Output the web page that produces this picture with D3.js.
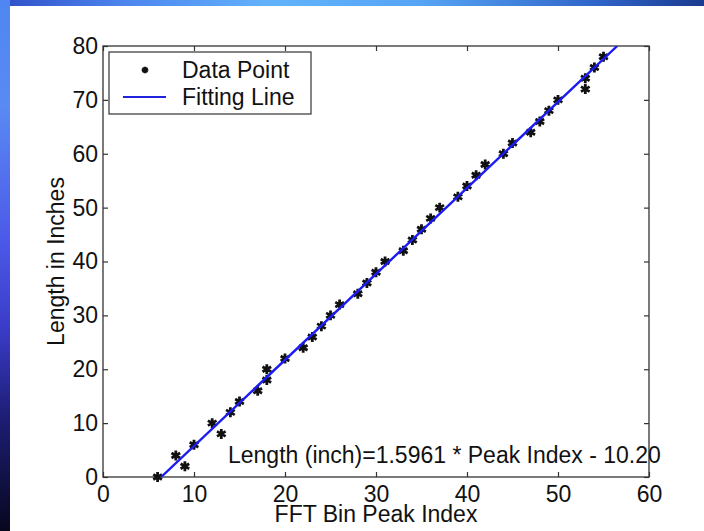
<!DOCTYPE html>
<html>
<head>
<meta charset="utf-8">
<script src="https://cdn.jsdelivr.net/npm/d3@7"></script>
<style>
  html, body { margin: 0; padding: 0; background: #fff; }
  svg { display: block; }
  text { font-family: "Liberation Sans", Arial, Helvetica, sans-serif; fill: #111; }
</style>
</head>
<body>
<svg id="chart" width="704" height="531"></svg>
<script>
// ---- data ----
const peakIndex = [6, 8, 9, 10, 12, 13, 14, 15, 17, 18, 18, 20, 22, 23, 24, 25, 26, 28, 29, 30,
                   31, 33, 34, 35, 36, 37, 39, 40, 41, 42, 44, 45, 47, 48, 49, 50, 53, 53, 54, 55];
const lengthInches = [0, 4, 2, 6, 10, 8, 12, 14, 16, 18, 20, 22, 24, 26, 28, 30, 32, 34, 36, 38,
                      40, 42, 44, 46, 48, 50, 52, 54, 56, 58, 60, 62, 64, 66, 68, 70, 72, 74, 76, 78];
// fitted line (Length = 1.5961 * Peak Index - 10.20), endpoints where it crosses the plot box
const fitX = [6.39, 56.51];
const fitY = [0, 80];
const xTicks = [0, 10, 20, 30, 40, 50, 60];
const yTicks = [0, 10, 20, 30, 40, 50, 60, 70, 80];
const xTitle = "FFT Bin Peak Index";
const yTitle = "Length in Inches";
const legendLabels = ["Data Point", "Fitting Line"];
const equationText = "Length (inch)=1.5961 * Peak Index - 10.20";

// ---- drawing ----
const svg = d3.select("#chart");
const W = 704, H = 531;
const L = 103, R = 649, T = 46, B = 477;
const FS = "23px";

const defs = svg.append("defs");
const gTop = defs.append("linearGradient").attr("id", "gTop").attr("x1", 0).attr("x2", 1).attr("y1", 0).attr("y2", 0);
[[0, "#2f4fc8"], [0.18, "#4d86ee"], [0.38, "#62b2fb"], [0.6, "#56a4f4"], [0.85, "#2f64c8"], [1, "#1a3a8e"]]
  .forEach(([o, c]) => gTop.append("stop").attr("offset", o).attr("stop-color", c));
const gLeft = defs.append("linearGradient").attr("id", "gLeft").attr("x1", 0).attr("x2", 0).attr("y1", 0).attr("y2", 1);
[[0, "#4f86f2"], [0.2, "#5a8af4"], [0.45, "#4c5ae8"], [0.62, "#3a3cc8"], [0.78, "#1e1e78"], [1, "#07071e"]]
  .forEach(([o, c]) => gLeft.append("stop").attr("offset", o).attr("stop-color", c));

svg.append("rect").attr("x", 0).attr("y", 0).attr("width", W).attr("height", 6).attr("fill", "url(#gTop)");
svg.append("rect").attr("x", 0).attr("y", 0).attr("width", 10).attr("height", H).attr("fill", "url(#gLeft)");

defs.append("clipPath").attr("id", "plotClip")
  .append("rect").attr("x", L).attr("y", T).attr("width", R - L).attr("height", B - T);

const x = d3.scaleLinear().domain([0, 60]).range([L, R]);
const y = d3.scaleLinear().domain([0, 80]).range([B, T]);

const axisColor = "#333";
function styleAxis(g) {
  g.select(".domain").remove();
  g.selectAll(".tick line").attr("stroke", axisColor).attr("stroke-width", 1.2);
  g.selectAll(".tick text").style("font-size", FS).attr("fill", "#111");
}

svg.append("g").attr("transform", `translate(0,${B})`)
  .call(d3.axisBottom(x).tickValues(xTicks).tickFormat(d3.format("d")).tickSizeInner(-5).tickSizeOuter(0).tickPadding(9))
  .call(styleAxis);
svg.append("g").attr("transform", `translate(${L},0)`)
  .call(d3.axisLeft(y).tickValues(yTicks).tickFormat(d3.format("d")).tickSizeInner(-5).tickSizeOuter(0).tickPadding(5))
  .call(styleAxis);
svg.append("g").attr("transform", `translate(0,${T})`)
  .call(d3.axisTop(x).tickValues(xTicks).tickFormat("").tickSizeInner(-5).tickSizeOuter(0))
  .call(styleAxis);
svg.append("g").attr("transform", `translate(${R},0)`)
  .call(d3.axisRight(y).tickValues(yTicks).tickFormat("").tickSizeInner(-5).tickSizeOuter(0))
  .call(styleAxis);

// frame
svg.append("rect").attr("x", L).attr("y", T).attr("width", R - L).attr("height", B - T)
  .attr("fill", "none").attr("stroke", axisColor).attr("stroke-width", 1.3);

// data points
const star = d3.symbol().type(d3.symbolAsterisk).size(70);
svg.append("g").selectAll("path.pt")
  .data(peakIndex.map((p, i) => ({ x: p, y: lengthInches[i] })))
  .join("path").attr("class", "pt")
  .attr("transform", d => `translate(${x(d.x)},${y(d.y)})`)
  .attr("d", star)
  .attr("fill", "none").attr("stroke", "#111").attr("stroke-width", 2.8);

// fit line
svg.append("path")
  .datum(fitX.map((v, i) => ({ x: v, y: fitY[i] })))
  .attr("clip-path", "url(#plotClip)")
  .attr("d", d3.line().x(d => x(d.x)).y(d => y(d.y)))
  .attr("fill", "none").attr("stroke", "#1c1cf0").attr("stroke-width", 2.4);

// legend
const lg = svg.append("g");
lg.append("rect").attr("x", 109).attr("y", 52).attr("width", 202).attr("height", 62)
  .attr("fill", "#fff").attr("stroke", axisColor).attr("stroke-width", 1.2);
lg.append("path").attr("transform", "translate(145,70)").attr("d", d3.symbol().type(d3.symbolAsterisk).size(30))
  .attr("fill", "none").attr("stroke", "#111").attr("stroke-width", 2.8);
lg.append("line").attr("x1", 123).attr("x2", 166).attr("y1", 97).attr("y2", 97)
  .attr("stroke", "#2222dd").attr("stroke-width", 2);
lg.append("text").attr("x", 182).attr("y", 78).style("font-size", FS).text(legendLabels[0]);
lg.append("text").attr("x", 182).attr("y", 105).style("font-size", FS).text(legendLabels[1]);

// equation
svg.append("text").attr("x", 228).attr("y", 463).style("font-size", FS).text(equationText);

// axis titles
svg.append("text").attr("x", (L + R) / 2).attr("y", 522).attr("text-anchor", "middle")
  .style("font-size", FS).text(xTitle);
svg.append("text").attr("transform", `translate(64,${(T + B) / 2}) rotate(-90)`).attr("text-anchor", "middle")
  .style("font-size", FS).text(yTitle);
</script>
</body>
</html>
